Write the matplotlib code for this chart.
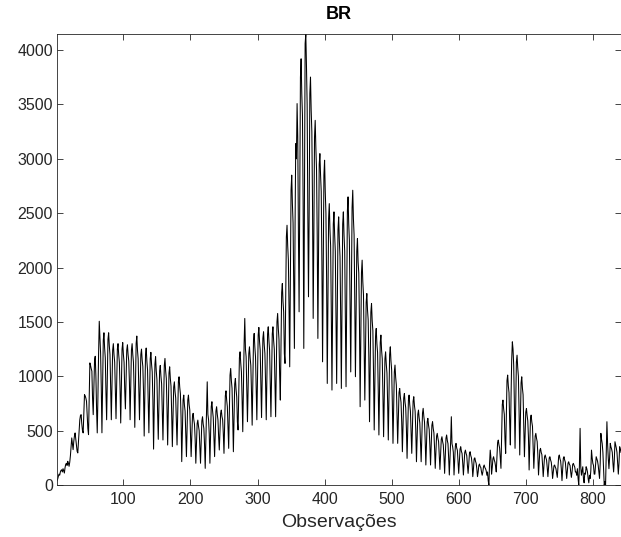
import numpy as np
import matplotlib
matplotlib.use('Agg')
import matplotlib.pyplot as plt

### Daily values (BR)
early = [40, 55, 80, 100, 90, 120, 135, 140, 120, 150, 130, 110, 160, 190, 200, 180,
         218, 200, 172, 210, 270, 350, 433, 380, 325, 400, 450, 479, 420, 360, 310, 295,
         400, 520, 600, 640, 647, 560, 500, 479, 650, 831, 820, 800, 770, 640, 520, 463,
         800, 1123, 1100, 1070, 1047, 800, 647, 900, 1150, 1184, 1000, 700, 479, 800, 1200,
         1506, 1350, 1213, 900]

first_wave = [
    480, 890, 1330, 1400, 1260, 1170, 850,
    600, 960, 1340, 1400, 1280, 1200, 920,
    600, 920, 1240, 1300, 1200, 1130, 880,
    610, 920, 1250, 1300, 1200, 1130, 890,
    570, 900, 1250, 1310, 1200, 1130, 870,
    700, 970, 1240, 1290, 1200, 1140, 940,
    600, 920, 1240, 1300, 1200, 1130, 880,
    530, 910, 1300, 1370, 1240, 1160, 870,
    600, 890, 1200, 1250, 1150, 1090, 860,
    450, 820, 1200, 1260, 1140, 1060, 770,
    480, 810, 1160, 1220, 1110, 1040, 780,
    330, 710, 1110, 1180, 1050, 970, 670,
    420, 730, 1050, 1100, 1000, 930, 690,
    414, 750, 1100, 1164, 1050, 980, 710,
    368, 690, 1030, 1087, 980, 910, 660,
    353, 620, 900, 949, 860, 800, 590,
    368, 650, 950, 995, 900, 840, 620,
    215, 490, 780, 827, 735, 680, 460,
    261, 515, 780, 827, 740, 690, 490,
    261, 440, 630, 659, 600, 560, 420,
    200, 380, 565, 597, 540, 500, 360,
    200, 390, 590, 628, 560, 520, 370,
    153, 420, 700, 949, 650, 600, 470,
    200, 450, 720, 766, 680, 620, 430,
    261, 470, 680, 720, 650, 600, 445,
    322, 490, 660, 689, 630, 600, 470,
    291, 550, 820, 866, 780, 720, 520,
    337, 670, 1010, 1072, 960, 890, 630,
    306, 610, 930, 980, 880, 810, 580,
    506, 830, 1170, 1225, 1120, 1040, 790,
    490, 900, 1300, 1532, 1250, 1180, 900,
    582, 890, 1210, 1271, 1170, 1100, 860,
    550, 930, 1330, 1394, 1270, 1180, 890,
    600, 980, 1380, 1449, 1320, 1240, 940,
    620, 970, 1350, 1409, 1290, 1210, 940,
    600, 990, 1390, 1455, 1330, 1240, 940,
    628, 1000, 1390, 1455, 1330, 1250, 960]

second_wave = [
    628, 1050, 1500, 1578, 1440, 1340, 1010,
    781, 1260, 1770, 1853, 1690, 1590, 1210,
    1118, 1690, 2280, 2389, 2200, 2070, 1630,
    1087, 1880, 2710, 2850, 2590, 2410, 1790,
    1256, 2400, 3140, 3000, 3508, 3200, 2300,
    1593, 2700, 3750, 3920, 3600, 3400, 2600,
    1256, 2600, 4060, 4148, 3850, 3500, 2500,
    1731, 2500, 3600, 3752, 3450, 3250, 2600,
    1532, 2300, 3200, 3354, 3100, 2900, 2300,
    1348, 2100, 2950, 3048, 2850, 2700, 2050,
    1133, 1950, 2850, 2987, 2700, 2500, 1900,
    934, 1700, 2450, 2588, 2350, 2200, 1600,
    873, 1650, 2400, 2512, 2300, 2150, 1550,
    934, 1650, 2350, 2466, 2250, 2100, 1550,
    888, 1650, 2400, 2512, 2300, 2150, 1550,
    904, 1700, 2520, 2650, 2400, 2250, 1600,
    1040, 1800, 2550, 2711, 2450, 2300, 1700,
    996, 1550, 2150, 2267, 2050, 1950, 1500,
    720, 1320, 1950, 2068, 1870, 1750, 1250,
    781, 1220, 1680, 1761, 1610, 1520, 1170,
    582, 1070, 1590, 1670, 1510, 1420, 1020,
    506, 930, 1370, 1440, 1300, 1220, 880,
    460, 870, 1310, 1379, 1240, 1160, 830,
    444, 800, 1160, 1225, 1110, 1030, 760,
    414, 800, 1200, 1271, 1140, 1060, 760,
    383, 710, 1040, 1103, 990, 920, 670,
    383, 610, 850, 888, 810, 760, 580,
    306, 550, 800, 842, 760, 710, 520,
    245, 510, 780, 827, 740, 680, 480,
    291, 530, 770, 812, 730, 680, 500,
    214, 430, 650, 689, 620, 570, 400,
    214, 440, 660, 705, 630, 580, 410,
    184, 380, 580, 613, 550, 510, 360,
    184, 360, 550, 582, 520, 480, 340,
    153, 300, 450, 475, 430, 400, 280,
    143, 280, 420, 444, 400, 370, 260,
    107, 270, 430, 460, 410, 380, 250,
    92, 250, 400, 628, 380, 350, 300,
    92, 230, 360, 383, 340, 320, 210,
    107, 220, 330, 352, 310, 290, 200,
    92, 200, 300, 321, 290, 270, 180,
    107, 190, 290, 306, 270, 250, 190,
    77, 150, 240, 250, 220, 200, 150,
    77, 120, 180, 193, 170, 160, 120,
    90, 120, 170, 184, 160, 150, 130,
    90, 120, 40, 0, 200, 321, 250,
    100, 160, 240, 260, 230, 210, 170,
    120, 260, 390, 413, 370, 340, 250]

third_wave = [
    153, 470, 740, 781, 700, 650, 420,
    291, 620, 960, 1011, 910, 850, 580,
    368, 800, 1150, 1317, 1250, 1100, 750,
    337, 720, 1130, 1194, 1080, 1000, 680,
    276, 600, 940, 995, 890, 830, 560,
    260, 460, 670, 704, 640, 590, 440,
    138, 370, 610, 643, 580, 540, 340,
    153, 300, 450, 475, 430, 400, 280,
    92, 200, 320, 337, 300, 280, 190,
    77, 170, 260, 276, 250, 230, 160,
    77, 160, 250, 260, 230, 210, 150,
    60, 115, 175, 184, 165, 150, 110,
    70, 160, 260, 276, 240, 220, 150,
    40, 140, 245, 260, 230, 210, 130,
    60, 130, 200, 214, 190, 180, 120,
    70, 120, 190, 199, 180, 165, 120,
    120, 90, 150, 60, 0, 180, 521,
    168, 90, 130, 168, 60, 20, 110,
    100, 168, 150, 120, 60, 20, 90,
    60, 130, 321, 250, 200, 180, 100,
    100, 180, 260, 240, 220, 180, 120,
    60, 200, 475, 420, 380, 300, 150,
    0, 30, 0, 300, 582, 380, 250,
    150, 250, 383, 350, 330, 300, 200,
    120, 230, 398, 370, 340, 300, 200,
    100, 200, 352, 330, 300]

y = np.array(early + first_wave + second_wave + third_wave, dtype=float)
x = np.arange(1, len(y) + 1)

plt.rcParams['font.family'] = ['Liberation Sans', 'DejaVu Sans']
axcol = '#262626'

fig = plt.figure(figsize=(6.21, 5.37), dpi=100)
ax = fig.add_axes([57/621, 52/537, 564/621, 451/537])
ax.plot(x, y, color='black', linewidth=0.75)

ax.set_xlim(1, len(y))
ax.set_ylim(0, y.max())
ax.set_xticks(range(100, 900, 100))
ax.set_yticks(range(0, 4500, 500))
ax.tick_params(direction='in', length=4, width=0.6, colors=axcol,
               labelsize=11.5, top=True, right=True)
ax.tick_params(axis='x', pad=5)
ax.tick_params(axis='y', pad=3)
for s in ax.spines.values():
    s.set_color(axcol)
    s.set_linewidth(0.6)

ax.set_title('BR', fontsize=13, fontweight='bold', pad=11)
ax.set_xlabel('Observações', fontsize=14, color=axcol, labelpad=5)

fig.savefig('out.png', dpi=100)
